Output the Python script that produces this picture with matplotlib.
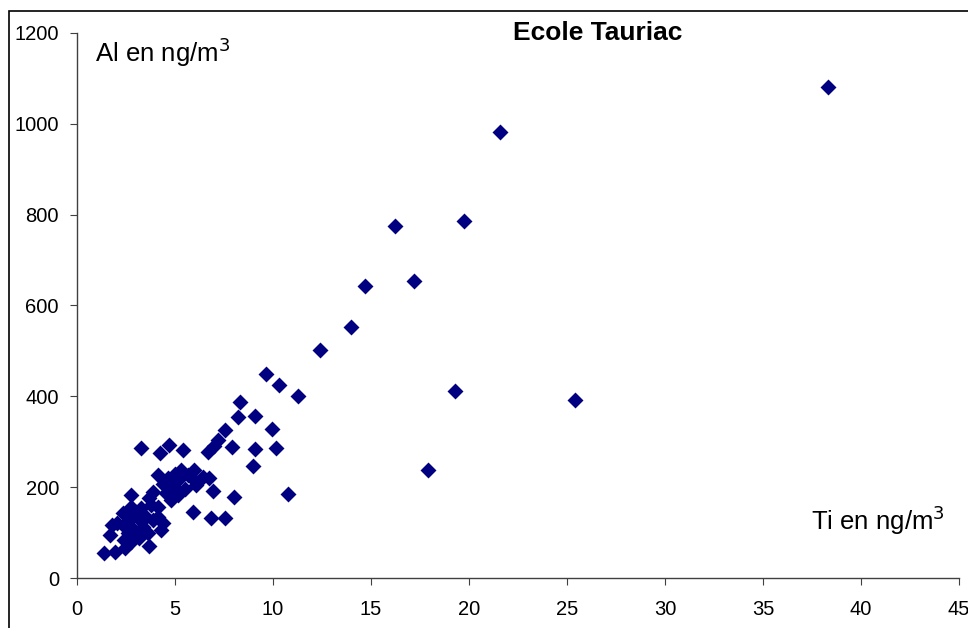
import matplotlib
matplotlib.use("Agg")
import matplotlib.pyplot as plt
from matplotlib.patches import Rectangle

plt.rcParams['font.family'] = ['Liberation Sans', 'DejaVu Sans']

# Ti (ng/m3) vs Al (ng/m3), Ecole Tauriac
ti = [38.3, 21.6, 19.75, 16.2, 17.2, 14.7, 14.0, 12.4, 19.3, 25.4, 17.9,
      9.64, 10.3, 11.3, 8.3, 9.1, 8.2, 7.55, 9.95, 7.2, 7.0, 6.7, 7.9, 9.1, 10.15,
      3.27, 4.23, 4.69, 5.41, 8.96, 10.77, 8.01, 6.94, 6.84, 7.55, 5.92,
      2.76, 3.66, 1.38, 1.94, 2.43, 1.79, 1.67, 4.29, 3.16, 2.40,
      4.12, 4.63, 5.31, 5.65, 6.41, 6.73, 6.07, 5.14, 4.54, 3.86, 3.67,
      4.12, 3.27, 2.76, 2.33, 2.04, 2.65, 3.10, 3.52, 3.86, 3.35, 2.91,
      2.59, 2.76, 3.61, 4.12, 4.37, 4.95, 4.80, 5.14, 5.97, 5.82,
      4.4, 5.0, 5.5, 3.0, 2.5, 3.8]
al = [1082, 981, 787, 774, 655, 642, 552, 503, 411, 391, 237,
      449, 424, 400, 387, 356, 354, 325, 328, 303, 290, 277, 288, 284, 286,
      286, 275, 292, 281, 246, 185, 178, 191, 133, 133, 145,
      182, 71, 55, 57, 66, 117, 95, 106, 88, 84,
      226, 220, 237, 226, 223, 220, 204, 182, 187, 190, 176,
      157, 154, 157, 143, 121, 128, 132, 135, 128, 113, 106,
      99, 80, 99, 135, 121, 201, 172, 215, 237, 223,
      208, 230, 195, 145, 110, 160]

fig = plt.figure(figsize=(9.68, 6.28), dpi=100)
ax = fig.add_axes([77/968, 1-578/628, 882/968, 545/628])

ax.scatter(ti, al, marker='D', s=66, color='#000080', linewidths=0, zorder=3)

ax.set_xlim(0, 45)
ax.set_ylim(0, 1200)
ax.set_xticks(range(0, 46, 5))
ax.set_yticks(range(0, 1201, 200))
for s in ['top', 'right']:
    ax.spines[s].set_visible(False)
for s in ['left', 'bottom']:
    ax.spines[s].set_color('#404040')
    ax.spines[s].set_linewidth(1)
ax.tick_params(direction='out', length=5, color='#404040', labelsize=14.5)
ax.tick_params(axis='x', pad=11)
ax.tick_params(axis='y', pad=8)

ax.text(0.59, 1.0, 'Ecole Tauriac', transform=ax.transAxes, ha='center',
        va='center', fontsize=19, fontweight='bold')
ax.text(0.02, 0.995, 'Al en ng/m$^3$', transform=ax.transAxes, ha='left',
        va='top', fontsize=18.5)
ax.text(0.984, 0.075, 'Ti en ng/m$^3$', transform=ax.transAxes, ha='right',
        va='bottom', fontsize=18.5)

# chart border
fig.patches.append(Rectangle((9/968, -0.1), 1.2, 1 - 11/628 + 0.1,
                             transform=fig.transFigure, fill=False,
                             edgecolor='black', linewidth=1.2))

fig.savefig('out.png', dpi=100)
